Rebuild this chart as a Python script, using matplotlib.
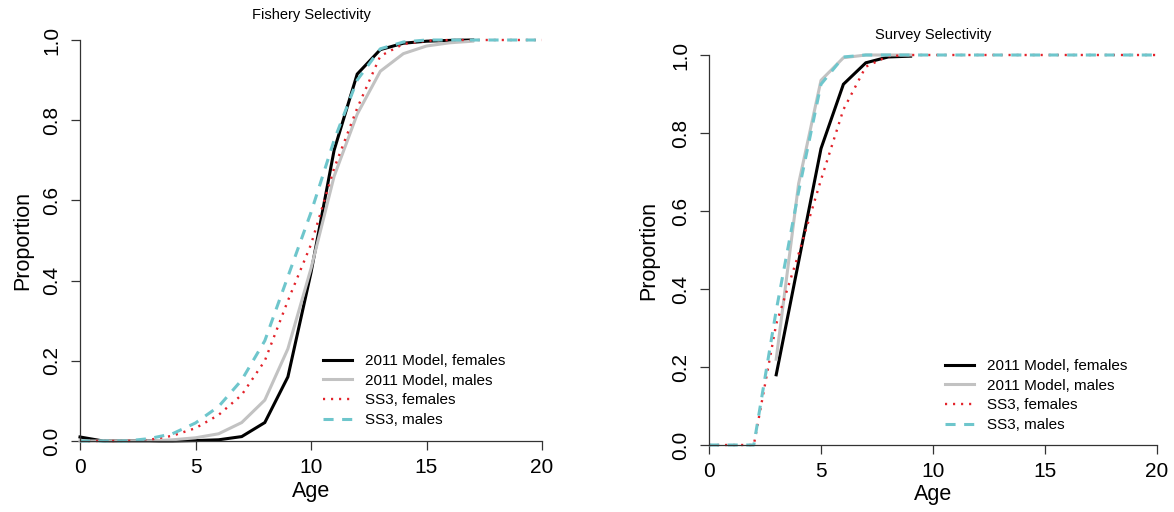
import matplotlib
matplotlib.use("Agg")
import matplotlib.pyplot as plt
import numpy as np

plt.rcParams['font.family'] = ['Liberation Sans', 'DejaVu Sans']

# ---------------- data ----------------
labels = ["2011 Model, females", "2011 Model, males", "SS3, females", "SS3, males"]

fish_age_2011 = [0, 1, 2, 3, 4, 5, 6, 7, 8, 9, 10, 11, 12, 13, 14, 15, 16, 17]
fish_f_2011 = [0.01, 0.0, 0.0, 0.0, 0.0, 0.001, 0.003, 0.011, 0.046, 0.16, 0.42, 0.725,
               0.915, 0.976, 0.992, 0.997, 0.999, 1.0]
fish_m_2011 = [0.0, 0.0, 0.0, 0.0, 0.003, 0.008, 0.018, 0.046, 0.102, 0.23, 0.43, 0.66,
               0.815, 0.922, 0.966, 0.985, 0.993, 0.997]
fish_age_ss3 = list(range(0, 21))
fish_f_ss3 = [0.0, 0.0, 0.0, 0.003, 0.013, 0.032, 0.065, 0.115, 0.2, 0.35, 0.49, 0.68,
              0.83, 0.96, 0.99, 0.998, 1.0, 1.0, 1.0, 1.0, 1.0]
fish_m_ss3 = [0.0, 0.0, 0.0, 0.006, 0.018, 0.045, 0.086, 0.152, 0.25, 0.41, 0.57, 0.75,
              0.9, 0.978, 0.995, 1.0, 1.0, 1.0, 1.0, 1.0, 1.0]

surv_age_2011 = [3, 4, 5, 6, 7, 8, 9]
surv_f_2011 = [0.18, 0.47, 0.76, 0.925, 0.98, 0.995, 0.997]
surv_m_2011 = [0.22, 0.67, 0.935, 0.993, 1.0, 1.0, 1.0]
surv_age_ss3 = list(range(0, 21))
surv_f_ss3 = [0.0, 0.0, 0.0, 0.31, 0.49, 0.68, 0.86, 0.97, 0.997, 1.0, 1.0, 1.0, 1.0,
              1.0, 1.0, 1.0, 1.0, 1.0, 1.0, 1.0, 1.0]
surv_m_ss3 = [0.0, 0.0, 0.0, 0.345, 0.65, 0.925, 0.995, 1.0, 1.0, 1.0, 1.0, 1.0, 1.0,
              1.0, 1.0, 1.0, 1.0, 1.0, 1.0, 1.0, 1.0]

x_ticks = [0, 5, 10, 15, 20]
y_ticks = [0.0, 0.2, 0.4, 0.6, 0.8, 1.0]

# ---------------- styles ----------------
C_BLACK = "#000000"
C_GRAY = "#C2C2C2"
C_RED = "#E3222A"
C_CYAN = "#6EC6CC"

W, H = 1174, 512
fig = plt.figure(figsize=(W / 100, H / 100), dpi=100)


def make_axes(rect, title, title_y, ylab_x, xlab_y):
    ax = fig.add_axes(rect)
    ax.set_xlim(0, 20)
    ax.set_ylim(0, 1)
    for s in ("top", "right"):
        ax.spines[s].set_visible(False)
    for s in ("left", "bottom"):
        ax.spines[s].set_linewidth(0.9)
        ax.spines[s].set_color("#333333")
    ax.set_xticks(x_ticks)
    ax.set_xticklabels([str(v) for v in x_ticks])
    ax.set_yticks(y_ticks)
    ax.set_yticklabels([f"{v:.1f}" for v in y_ticks])
    ax.tick_params(axis="both", direction="out", length=6.5, width=0.9,
                   color="#333333", labelsize=15)
    ax.tick_params(axis="x", pad=6)
    ax.tick_params(axis="y", pad=7, labelrotation=90)
    for lab in ax.get_yticklabels():
        lab.set_verticalalignment("center")
    ax.set_xlabel("Age", fontsize=15.5)
    ax.set_ylabel("Proportion", fontsize=15.5)
    ax.yaxis.label.set_verticalalignment("center")
    ax.xaxis.label.set_verticalalignment("center")
    ax.yaxis.set_label_coords(ylab_x, 0.5)
    ax.xaxis.set_label_coords(0.5, xlab_y)
    ax.text(0.5, title_y, title, transform=ax.transAxes, ha="center",
            va="center", fontsize=10.5)
    return ax


def draw(ax, a11, f11, m11, ass, fss, mss, leg_anchor):
    ax.plot(a11, f11, color=C_BLACK, lw=2.2, clip_on=False,
            solid_joinstyle="miter", label=labels[0])
    ax.plot(a11, m11, color=C_GRAY, lw=2.2, clip_on=False, label=labels[1])
    ax.plot(ass, fss, color=C_RED, lw=1.7, linestyle=(0, (0.9, 2.5)),
            clip_on=False, label=labels[2])
    ax.plot(ass, mss, color=C_CYAN, lw=2.2, linestyle=(0, (3.3, 2.8)),
            clip_on=False, label=labels[3])
    ax.legend(loc="upper left", bbox_to_anchor=leg_anchor,
              bbox_transform=fig.transFigure, frameon=False, fontsize=11,
              borderpad=0, borderaxespad=0, handlelength=1.9,
              handletextpad=0.85, labelspacing=0.37)


ax1 = make_axes([80 / W, 1 - 441 / H, 462 / W, 401 / H],
                "Fishery Selectivity", 1.062, -0.124, -0.127)
draw(ax1, fish_age_2011, fish_f_2011, fish_m_2011,
     fish_age_ss3, fish_f_ss3, fish_m_ss3, (323 / W, 1 - 354 / H))

ax2 = make_axes([709 / W, 1 - 445 / H, 448 / W, 390 / H],
                "Survey Selectivity", 1.051, -0.134, -0.128)
draw(ax2, surv_age_2011, surv_f_2011, surv_m_2011,
     surv_age_ss3, surv_f_ss3, surv_m_ss3, (945 / W, 1 - 359 / H))

fig.savefig("out.png", dpi=100)
